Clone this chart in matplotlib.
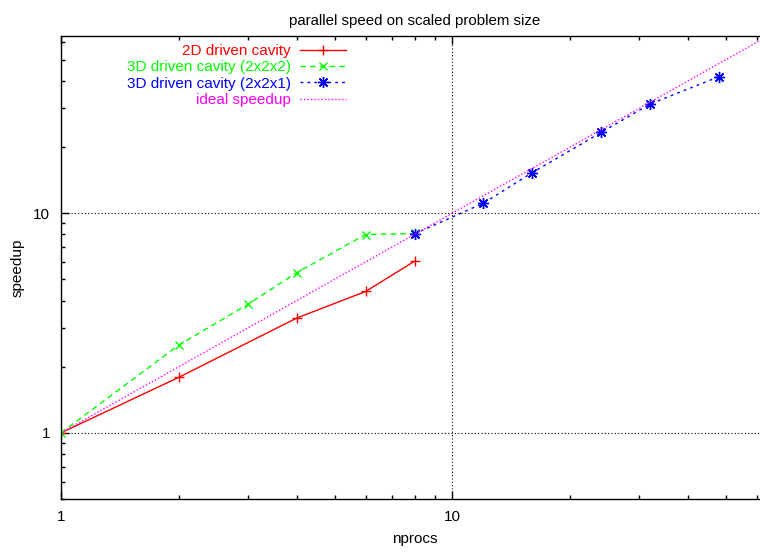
import matplotlib
matplotlib.use("Agg")
import matplotlib.pyplot as plt
from matplotlib.ticker import LogLocator, NullFormatter, FixedLocator, FixedFormatter

plt.rcParams['font.family'] = ['Liberation Sans', 'DejaVu Sans']

title = "parallel speed on scaled problem size"
xlabel = "nprocs"
ylabel = "speedup"

x_2d = [1, 2, 4, 6, 8]
y_2d = [1.0, 1.79, 3.33, 4.40, 6.04]

x_3d222 = [1, 2, 3, 4, 6, 8]
y_3d222 = [1.0, 2.51, 3.84, 5.36, 7.99, 8.08]

x_3d221 = [8, 12, 16, 24, 32, 48]
y_3d221 = [8.05, 11.1, 15.3, 23.3, 31.4, 41.8]

x_ideal = [1, 64]
y_ideal = [1, 64]

labels = ["2D driven cavity", "3D driven cavity (2x2x2)",
          "3D driven cavity (2x2x1)", "ideal speedup"]

W, H = 760, 552
fig = plt.figure(figsize=(W / 100, H / 100), dpi=100)
ax = fig.add_axes([61 / W, (H - 499) / H, (768 - 61) / W, (499 - 36) / H])

ax.plot(x_2d, y_2d, color='#ff0000', lw=1.0, ls='-', marker='+', ms=7, mew=1.0, label=labels[0])
ax.plot(x_3d222, y_3d222, color='#00ff00', lw=1.0, ls=(0, (4, 3)), marker='x', ms=6, mew=1.0, label=labels[1])
ax.plot(x_3d221, y_3d221, color='#0000ff', lw=1.0, ls=(0, (2, 3)), marker=(8, 2, 0), ms=8, mew=1.0, label=labels[2])
ax.plot(x_ideal, y_ideal, color='#ff00ff', lw=1.0, ls=(0, (1, 1.5)), label=labels[3])

ax.set_xscale('log')
ax.set_yscale('log')
ax.set_xlim(1, 64)
ax.set_ylim(0.5, 64)

ax.xaxis.set_major_locator(FixedLocator([1, 10]))
ax.xaxis.set_major_formatter(FixedFormatter(['1', '10']))
ax.yaxis.set_major_locator(FixedLocator([1, 10]))
ax.yaxis.set_major_formatter(FixedFormatter(['1', '10']))
ax.xaxis.set_minor_locator(LogLocator(base=10, subs=range(2, 10)))
ax.yaxis.set_minor_locator(LogLocator(base=10, subs=range(2, 10)))
ax.xaxis.set_minor_formatter(NullFormatter())
ax.yaxis.set_minor_formatter(NullFormatter())

ax.tick_params(which='both', direction='in', top=True, right=True, labelsize=11, width=1.0)
ax.tick_params(which='major', length=6, pad=8)
ax.tick_params(which='minor', length=3)
ax.grid(True, which='major', color='black', ls=(0, (1, 2)), lw=0.8)

for s in ax.spines.values():
    s.set_linewidth(1.0)

ax.set_title(title, fontsize=10.8, pad=8)
ax.set_xlabel(xlabel, fontsize=11, labelpad=6)
ax.set_ylabel(ylabel, fontsize=11, labelpad=6)

leg = ax.legend(loc='upper right', bbox_to_anchor=(346 / W, 1 - 44 / H),
                bbox_transform=fig.transFigure, frameon=False,
                markerfirst=False, labelcolor='linecolor', fontsize=11,
                handlelength=3.0, handletextpad=0.6, labelspacing=0.15,
                borderaxespad=0.0, borderpad=0.0)

fig.savefig("out.png", dpi=100)
